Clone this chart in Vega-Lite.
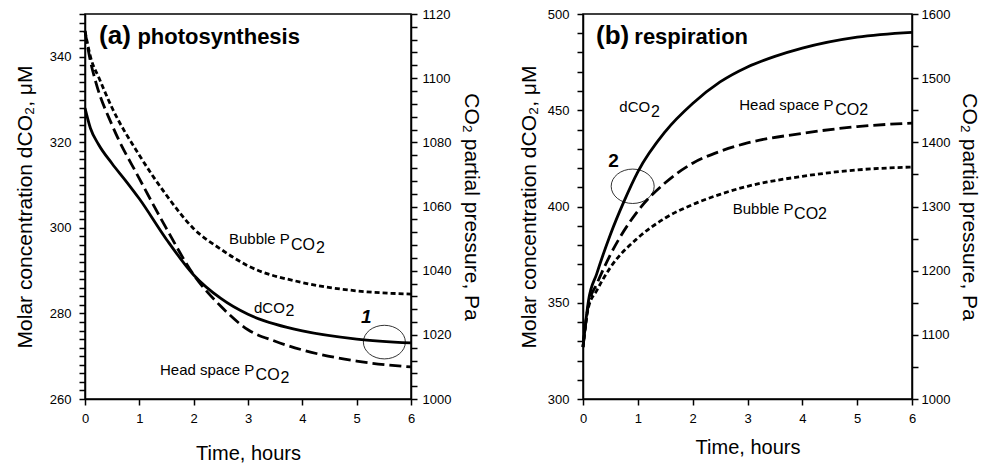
{
  "$schema": "https://vega.github.io/schema/vega-lite/v6.json",
  "padding": {"left": 13, "top": 7, "right": 0, "bottom": 0},
  "background": "white",
  "config": {
    "view": {"stroke": "black", "strokeWidth": 1.5},
    "font": "Liberation Sans",
    "axis": {
      "domainColor": "black", "domainWidth": 1.5, "ticks": true, "tickColor": "black", "tickWidth": 1.5, "tickOpacity": 1,
      "labelColor": "black", "labelFont": "Liberation Sans", "labelFontSize": 13,
      "titleFont": "Liberation Sans", "titleFontSize": 21, "titleFontWeight": "normal", "titleColor": "black",
      "grid": false, "labelOverlap": false, "labelBound": false, "labelFlush": false, "format": "d"
    },
    "text": {"font": "Liberation Sans", "color": "black", "align": "left", "baseline": "alphabetic"}
  },
  "datasets": {
    "dA": [
      {"t": 0, "v": 328}, {"t": 0.1, "v": 323.3}, {"t": 0.25, "v": 319.5}, {"t": 0.5, "v": 315},
      {"t": 0.75, "v": 311}, {"t": 1, "v": 306.8}, {"t": 1.5, "v": 297.3}, {"t": 2, "v": 289},
      {"t": 2.5, "v": 283.5}, {"t": 3, "v": 279.8}, {"t": 3.5, "v": 277.5}, {"t": 4, "v": 275.9},
      {"t": 5, "v": 274}, {"t": 6, "v": 273.1}
    ],
    "gA": [
      {"series": "Bubble", "t": 0, "p": 1114.7}, {"series": "Bubble", "t": 0.1, "p": 1106.7},
      {"series": "Bubble", "t": 0.26, "p": 1100}, {"series": "Bubble", "t": 0.5, "p": 1090.7},
      {"series": "Bubble", "t": 1, "p": 1076}, {"series": "Bubble", "t": 1.5, "p": 1063.5},
      {"series": "Bubble", "t": 2, "p": 1053.1}, {"series": "Bubble", "t": 2.5, "p": 1046.7},
      {"series": "Bubble", "t": 3, "p": 1041.5}, {"series": "Bubble", "t": 4, "p": 1036.3},
      {"series": "Bubble", "t": 5, "p": 1033.7}, {"series": "Bubble", "t": 6, "p": 1032.7},
      {"series": "Head space", "t": 0, "p": 1114.7}, {"series": "Head space", "t": 0.1, "p": 1105.3},
      {"series": "Head space", "t": 0.2, "p": 1098.7}, {"series": "Head space", "t": 0.5, "p": 1085.3},
      {"series": "Head space", "t": 1, "p": 1068.7}, {"series": "Head space", "t": 1.5, "p": 1053.1},
      {"series": "Head space", "t": 2, "p": 1038.7}, {"series": "Head space", "t": 2.5, "p": 1028.9},
      {"series": "Head space", "t": 3, "p": 1021.6}, {"series": "Head space", "t": 3.5, "p": 1018},
      {"series": "Head space", "t": 4, "p": 1015.3}, {"series": "Head space", "t": 5, "p": 1011.8},
      {"series": "Head space", "t": 6, "p": 1010}
    ],
    "annA": [
      {"kind": "main", "t": 2.65, "v": 296.2, "text": "Bubble P"},
      {"kind": "sub", "t": 3.79, "v": 294.9, "text": "CO"},
      {"kind": "sub", "t": 4.25, "v": 294.2, "text": "2"},
      {"kind": "main", "t": 3.11, "v": 280.2, "text": "dCO"},
      {"kind": "sub", "t": 3.69, "v": 279.4, "text": "2"},
      {"kind": "main", "t": 1.38, "v": 265.6, "text": "Head space P"},
      {"kind": "sub", "t": 3.14, "v": 264.5, "text": "CO"},
      {"kind": "sub", "t": 3.6, "v": 263.8, "text": "2"},
      {"kind": "num", "t": 5.08, "v": 277.8, "text": "1"},
      {"kind": "letter", "t": 0.258, "v": 342.9, "text": "(a)"},
      {"kind": "word", "t": 0.964, "v": 342.9, "text": "photosynthesis"},
      {"kind": "ellipse", "t": 5.51, "v": 273.3, "text": ""}
    ],
    "dB": [
      {"t": 0, "v": 327}, {"t": 0.05, "v": 340}, {"t": 0.1, "v": 351}, {"t": 0.25, "v": 365},
      {"t": 0.5, "v": 385.5}, {"t": 0.75, "v": 402.8}, {"t": 1, "v": 418}, {"t": 1.5, "v": 438.9},
      {"t": 2, "v": 453.5}, {"t": 2.5, "v": 464.7}, {"t": 3, "v": 472.5}, {"t": 3.5, "v": 478},
      {"t": 4, "v": 482.3}, {"t": 5, "v": 488}, {"t": 6, "v": 490.5}
    ],
    "gB": [
      {"series": "Head space", "t": 0, "p": 1081}, {"series": "Head space", "t": 0.1, "p": 1147},
      {"series": "Head space", "t": 0.25, "p": 1179}, {"series": "Head space", "t": 0.5, "p": 1225},
      {"series": "Head space", "t": 1, "p": 1293}, {"series": "Head space", "t": 1.5, "p": 1337},
      {"series": "Head space", "t": 2, "p": 1367.5}, {"series": "Head space", "t": 2.5, "p": 1386},
      {"series": "Head space", "t": 3, "p": 1399}, {"series": "Head space", "t": 4, "p": 1414},
      {"series": "Head space", "t": 5, "p": 1424.5}, {"series": "Head space", "t": 6, "p": 1430},
      {"series": "Bubble", "t": 0, "p": 1081}, {"series": "Bubble", "t": 0.1, "p": 1143},
      {"series": "Bubble", "t": 0.25, "p": 1169}, {"series": "Bubble", "t": 0.5, "p": 1205},
      {"series": "Bubble", "t": 1, "p": 1251}, {"series": "Bubble", "t": 1.5, "p": 1282},
      {"series": "Bubble", "t": 2, "p": 1303}, {"series": "Bubble", "t": 2.5, "p": 1319},
      {"series": "Bubble", "t": 3, "p": 1331.5}, {"series": "Bubble", "t": 4, "p": 1347},
      {"series": "Bubble", "t": 5, "p": 1357}, {"series": "Bubble", "t": 6, "p": 1361.5}
    ],
    "annB": [
      {"kind": "main", "t": 0.663, "v": 449.2, "text": "dCO"},
      {"kind": "sub", "t": 1.24, "v": 446.6, "text": "2"},
      {"kind": "main", "t": 2.85, "v": 450.1, "text": "Head space P"},
      {"kind": "sub", "t": 4.6, "v": 447.5, "text": "CO2"},
      {"kind": "main", "t": 2.73, "v": 395.9, "text": "Bubble P"},
      {"kind": "sub", "t": 3.85, "v": 393.3, "text": "CO2"},
      {"kind": "num", "t": 0.46, "v": 420.5, "text": "2"},
      {"kind": "letter", "t": 0.237, "v": 484.5, "text": "(b)"},
      {"kind": "word", "t": 0.936, "v": 484.5, "text": "respiration"},
      {"kind": "ellipse", "t": 0.906, "v": 410.5, "text": ""}
    ]
  },
  "spacing": 34,
  "hconcat": [
    {
      "width": 326, "height": 385,
      "resolve": {"scale": {"y": "independent"}},
      "encoding": {
        "x": {"field": "t", "type": "quantitative", "scale": {"domain": [0, 6]}, "title": "Time, hours",
          "axis": {"values": [0, 1, 2, 3, 4, 5, 6], "titleFontSize": 20, "ticks": true, "tickSize": 6, "labelPadding": 7, "titlePadding": 18, "labelOverlap": false}}
      },
      "layer": [
        {
          "encoding": {
            "y": {"field": "v", "type": "quantitative", "scale": {"domain": [260, 350]}, "title": "Molar concentration dCO₂, μM",
              "axis": {"values": [260,262,264,266,268,270,272,274,276,278,280,282,284,286,288,290,292,294,296,298,300,302,304,306,308,310,312,314,316,318,320,322,324,326,328,330,332,334,336,338,340,342,344,346,348,350],
                "labelExpr": "datum.value % 20 === 0 ? datum.label : ''", "labelOverlap": false,
                "ticks": true, "tickSize": 6, "labelPadding": 8, "titlePadding": 14}}
          },
          "layer": [
            {
              "data": {"name": "dA"},
              "mark": {"type": "line", "interpolate": "monotone", "color": "black", "strokeWidth": 2.8},
              "encoding": {}
            },
            {
              "data": {"name": "annA"},
              "transform": [{"filter": "datum.kind === 'main'"}],
              "mark": {"type": "text", "fontSize": 15},
              "encoding": {"text": {"field": "text"}}
            },
            {
              "data": {"name": "annA"},
              "transform": [{"filter": "datum.kind === 'sub'"}],
              "mark": {"type": "text", "fontSize": 16},
              "encoding": {"text": {"field": "text"}}
            },
            {
              "data": {"name": "annA"},
              "transform": [{"filter": "datum.kind === 'num'"}],
              "mark": {"type": "text", "fontSize": 19, "fontWeight": "bold", "fontStyle": "italic"},
              "encoding": {"text": {"field": "text"}}
            },
            {
              "data": {"name": "annA"},
              "transform": [{"filter": "datum.kind === 'letter'"}],
              "mark": {"type": "text", "fontSize": 26, "fontWeight": "bold"},
              "encoding": {"text": {"field": "text"}}
            },
            {
              "data": {"name": "annA"},
              "transform": [{"filter": "datum.kind === 'word'"}],
              "mark": {"type": "text", "fontSize": 22, "fontWeight": "bold"},
              "encoding": {"text": {"field": "text"}}
            },
            {
              "data": {"name": "annA"},
              "transform": [{"filter": "datum.kind === 'ellipse'"}],
              "mark": {"type": "point", "shape": "M -1 0 A 1 0.8 0 1 1 1 0 A 1 0.8 0 1 1 -1 0 Z", "size": 1764, "filled": false, "stroke": "black", "strokeWidth": 0.8, "opacity": 1},
              "encoding": {}
            }
          ]
        },
        {
          "data": {"name": "gA"},
          "mark": {"type": "line", "interpolate": "monotone", "color": "black", "strokeWidth": 2.8},
          "encoding": {
            "y": {"field": "p", "type": "quantitative", "scale": {"domain": [1000, 1120]}, "title": "CO₂ partial pressure, Pa",
              "axis": {"orient": "right", "labelOverlap": false,
                "values": [1000,1004,1008,1012,1016,1020,1024,1028,1032,1036,1040,1044,1048,1052,1056,1060,1064,1068,1072,1076,1080,1084,1088,1092,1096,1100,1104,1108,1112,1116,1120],
                "labelExpr": "datum.value % 20 === 0 ? datum.label : ''",
                "ticks": true, "tickSize": 6, "labelPadding": 5, "titlePadding": 10}},
            "detail": {"field": "series"},
            "strokeDash": {"field": "series", "type": "nominal", "scale": {"domain": ["Head space", "Bubble"], "range": [[12, 5], [5, 3]]}, "legend": null}
          }
        }
      ]
    },
    {
      "width": 329, "height": 385,
      "resolve": {"scale": {"y": "independent"}},
      "encoding": {
        "x": {"field": "t", "type": "quantitative", "scale": {"domain": [0, 6]}, "title": "Time, hours",
          "axis": {"values": [0, 1, 2, 3, 4, 5, 6], "titleFontSize": 20, "ticks": true, "tickSize": 6, "labelPadding": 7, "titlePadding": 12, "labelOverlap": false}}
      },
      "layer": [
        {
          "encoding": {
            "y": {"field": "v", "type": "quantitative", "scale": {"domain": [300, 500]}, "title": "Molar concentration dCO₂, μM",
              "axis": {"values": [300,310,320,330,340,350,360,370,380,390,400,410,420,430,440,450,460,470,480,490,500],
                "labelExpr": "datum.value % 50 === 0 ? datum.label : ''", "labelOverlap": false,
                "ticks": true, "tickSize": 6, "labelPadding": 8, "titlePadding": 8}}
          },
          "layer": [
            {
              "data": {"name": "dB"},
              "mark": {"type": "line", "interpolate": "monotone", "color": "black", "strokeWidth": 2.8},
              "encoding": {}
            },
            {
              "data": {"name": "annB"},
              "transform": [{"filter": "datum.kind === 'main'"}],
              "mark": {"type": "text", "fontSize": 15},
              "encoding": {"text": {"field": "text"}}
            },
            {
              "data": {"name": "annB"},
              "transform": [{"filter": "datum.kind === 'sub'"}],
              "mark": {"type": "text", "fontSize": 16},
              "encoding": {"text": {"field": "text"}}
            },
            {
              "data": {"name": "annB"},
              "transform": [{"filter": "datum.kind === 'num'"}],
              "mark": {"type": "text", "fontSize": 19, "fontWeight": "bold"},
              "encoding": {"text": {"field": "text"}}
            },
            {
              "data": {"name": "annB"},
              "transform": [{"filter": "datum.kind === 'letter'"}],
              "mark": {"type": "text", "fontSize": 26, "fontWeight": "bold"},
              "encoding": {"text": {"field": "text"}}
            },
            {
              "data": {"name": "annB"},
              "transform": [{"filter": "datum.kind === 'word'"}],
              "mark": {"type": "text", "fontSize": 22, "fontWeight": "bold"},
              "encoding": {"text": {"field": "text"}}
            },
            {
              "data": {"name": "annB"},
              "transform": [{"filter": "datum.kind === 'ellipse'"}],
              "mark": {"type": "point", "shape": "M -1 0 A 1 0.8 0 1 1 1 0 A 1 0.8 0 1 1 -1 0 Z", "size": 1849, "filled": false, "stroke": "black", "strokeWidth": 0.8, "opacity": 1},
              "encoding": {}
            }
          ]
        },
        {
          "data": {"name": "gB"},
          "mark": {"type": "line", "interpolate": "monotone", "color": "black", "strokeWidth": 2.8},
          "encoding": {
            "y": {"field": "p", "type": "quantitative", "scale": {"domain": [1000, 1600]}, "title": "CO₂ partial pressure, Pa",
              "axis": {"orient": "right", "labelOverlap": false,
                "values": [1000,1050,1100,1150,1200,1250,1300,1350,1400,1450,1500,1550,1600],
                "labelExpr": "datum.value % 100 === 0 ? datum.label : ''",
                "ticks": true, "tickSize": 6, "labelPadding": 3, "titlePadding": 9}},
            "detail": {"field": "series"},
            "strokeDash": {"field": "series", "type": "nominal", "scale": {"domain": ["Head space", "Bubble"], "range": [[12, 5], [5, 3]]}, "legend": null}
          }
        }
      ]
    }
  ]
}
